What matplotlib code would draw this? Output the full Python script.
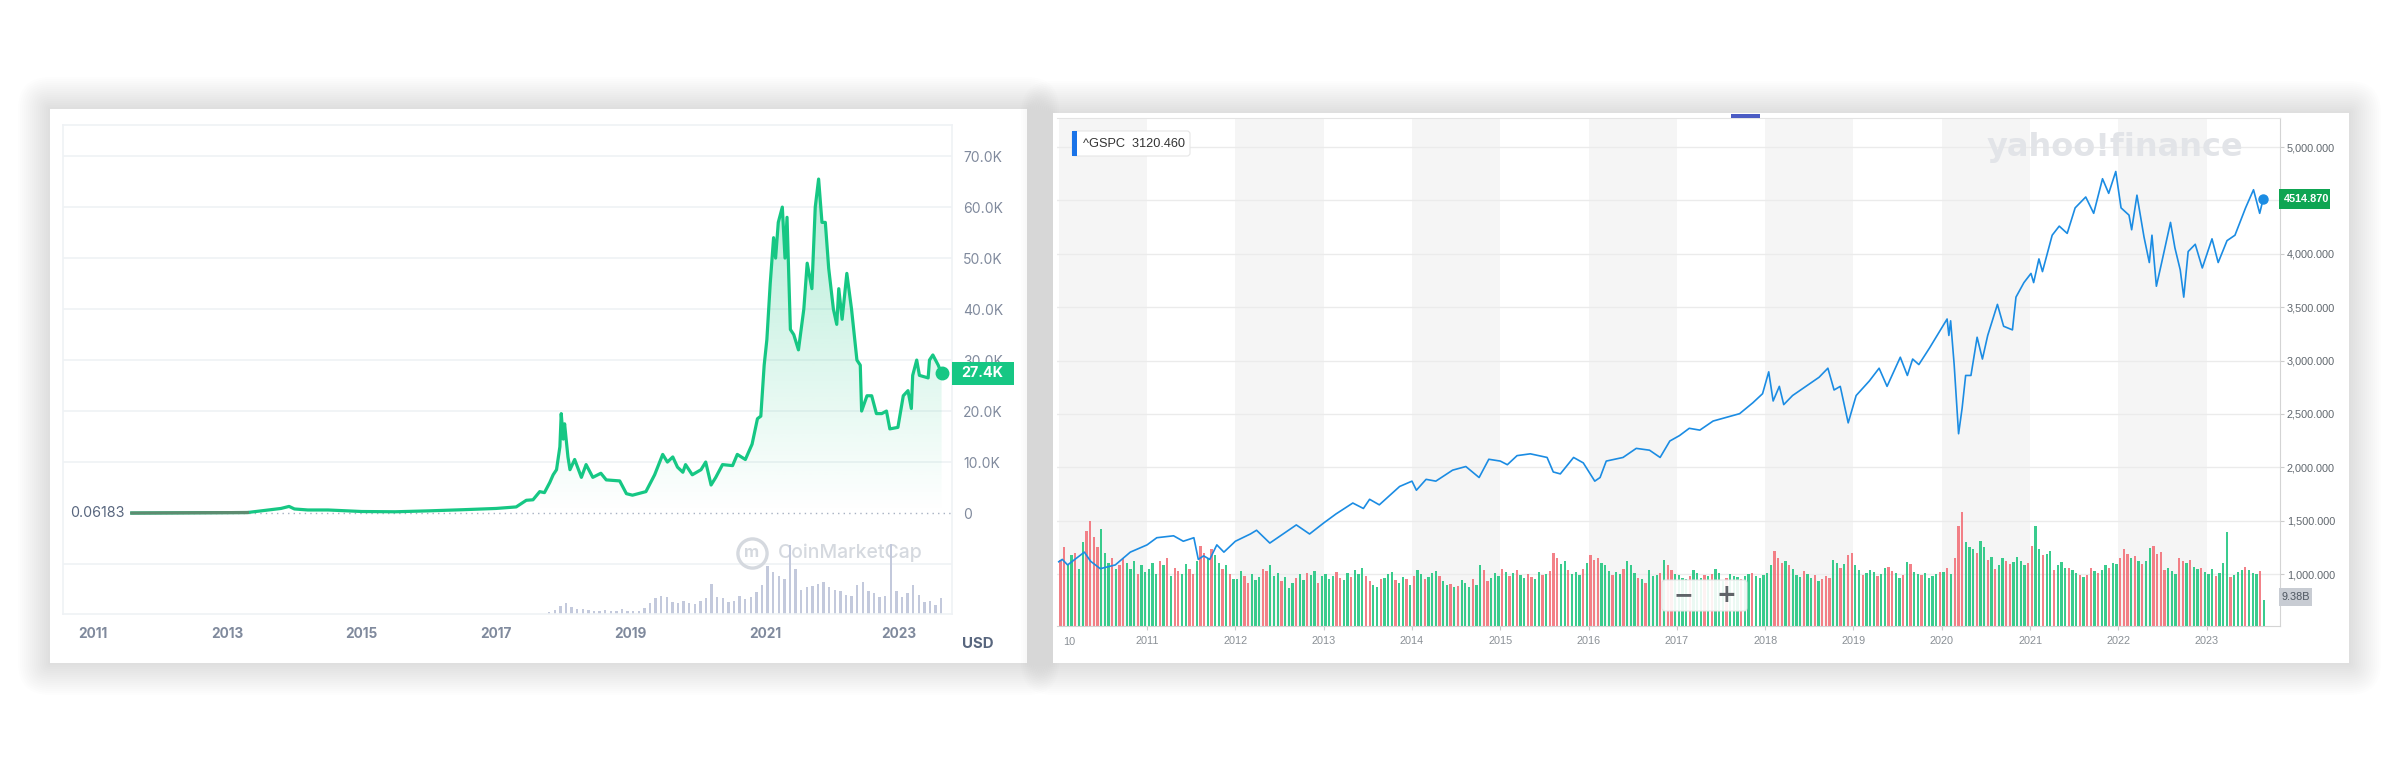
import numpy as np
import matplotlib
matplotlib.use('Agg')
import matplotlib.pyplot as plt
from matplotlib.patches import Rectangle, FancyBboxPatch
from matplotlib.transforms import blended_transform_factory

W, H = 2400, 772

# ---------------- Bitcoin (CoinMarketCap) ----------------
btc_years = [
    2011.58, 2013.30, 2013.80, 2013.92, 2014.00, 2014.20, 2014.50, 2015.00, 2015.50, 2016.00,
    2016.50, 2017.00, 2017.30, 2017.45, 2017.55, 2017.65, 2017.72, 2017.80, 2017.85, 2017.90,
    2017.95, 2017.97, 2018.00, 2018.02, 2018.07, 2018.10, 2018.17, 2018.27, 2018.34, 2018.44,
    2018.56, 2018.64, 2018.84, 2018.94, 2019.03, 2019.23, 2019.36, 2019.48, 2019.55, 2019.63,
    2019.70, 2019.78, 2019.82, 2019.92, 2020.05, 2020.12, 2020.20, 2020.27, 2020.37, 2020.52,
    2020.59, 2020.71, 2020.81, 2020.89, 2020.94, 2020.99, 2021.03, 2021.08, 2021.13, 2021.16,
    2021.20, 2021.26, 2021.30, 2021.33, 2021.38, 2021.43, 2021.50, 2021.58, 2021.63, 2021.70,
    2021.75, 2021.80, 2021.85, 2021.90, 2021.95, 2022.02, 2022.07, 2022.10, 2022.15, 2022.22,
    2022.29, 2022.37, 2022.42, 2022.44, 2022.52, 2022.59, 2022.66, 2022.74, 2022.81, 2022.86,
    2022.98, 2023.06, 2023.13, 2023.18, 2023.20, 2023.26, 2023.30, 2023.43, 2023.45, 2023.50,
    2023.58, 2023.63]
btc_price_k = [
    0.0, 0.1, 0.9, 1.3, 0.8, 0.6, 0.6, 0.3, 0.25, 0.43,
    0.65, 0.9, 1.2, 2.5, 2.6, 4.2, 4.0, 6.0, 7.5, 8.5,
    13.0, 19.5, 14.5, 17.5, 11.0, 8.5, 10.5, 7.0, 9.5, 7.0,
    7.8, 6.5, 6.3, 3.8, 3.5, 4.2, 7.5, 11.5, 10.0, 11.0,
    9.0, 8.0, 9.5, 7.5, 8.5, 10.0, 5.5, 7.0, 9.5, 9.3,
    11.5, 10.5, 13.5, 18.5, 19.0, 29.0, 34.0, 45.0, 54.0, 50.0,
    57.0, 60.0, 50.0, 58.0, 36.0, 35.0, 32.0, 40.0, 49.0, 44.0,
    60.0, 65.5, 57.0, 57.0, 48.0, 40.0, 37.0, 44.0, 38.0, 47.0,
    40.0, 30.0, 29.0, 20.0, 23.0, 23.0, 19.5, 19.5, 20.0, 16.5,
    16.8, 23.0, 24.0, 20.5, 27.0, 30.0, 27.0, 26.5, 30.0, 31.0,
    29.0, 27.4]
# monthly volume from Oct 2017, in chart units (K of the price scale)
btc_vol_start = 2017.75
btc_volume = [
    0.4, 0.7, 1.6,
    2.2, 1.4, 1.0, 0.9, 0.8, 0.6, 0.6, 0.7, 0.5, 0.5, 0.9, 0.6,
    0.5, 0.6, 1.2, 2.2, 3.2, 3.6, 3.4, 2.4, 2.1, 2.6, 2.2, 1.9,
    2.6, 3.1, 5.8, 3.4, 3.2, 2.4, 2.6, 3.6, 2.9, 3.3, 4.4, 5.6,
    9.5, 8.2, 7.4, 6.8, 13.5, 8.8, 4.8, 5.2, 5.4, 5.8, 6.2, 5.2,
    4.8, 4.6, 3.8, 3.6, 5.6, 6.2, 4.6, 4.2, 3.4, 3.6, 13.8, 4.6,
    3.4, 4.2, 5.6, 3.8, 2.4, 2.6, 1.8, 3.2]
btc_yticks = [0, 10, 20, 30, 40, 50, 60, 70]
btc_xticks = [2011, 2013, 2015, 2017, 2019, 2021, 2023]
btc_first_label = '0.06183'
btc_last_label = '27.4K'

# ---------------- S&P 500 (Yahoo Finance) ----------------
spx_years = [
    2010.00, 2010.04, 2010.10, 2010.29, 2010.36, 2010.47, 2010.64, 2010.81, 2011.00, 2011.11,
    2011.30, 2011.41, 2011.53, 2011.58, 2011.64, 2011.71, 2011.79, 2011.87, 2012.00, 2012.17,
    2012.24, 2012.39, 2012.54, 2012.69, 2012.84, 2013.00, 2013.14, 2013.33, 2013.45, 2013.52,
    2013.63, 2013.86, 2014.00, 2014.05, 2014.16, 2014.27, 2014.46, 2014.61, 2014.76, 2014.87,
    2015.00, 2015.08, 2015.19, 2015.34, 2015.53, 2015.60, 2015.68, 2015.83, 2015.94, 2016.07,
    2016.13, 2016.20, 2016.39, 2016.54, 2016.69, 2016.81, 2016.92, 2017.03, 2017.14, 2017.26,
    2017.41, 2017.56, 2017.71, 2017.86, 2017.97, 2018.04, 2018.09, 2018.16, 2018.21, 2018.31,
    2018.46, 2018.61, 2018.71, 2018.78, 2018.85, 2018.94, 2019.03, 2019.18, 2019.29, 2019.38,
    2019.53, 2019.61, 2019.67, 2019.74, 2019.86, 2020.01, 2020.06, 2020.08, 2020.10, 2020.14,
    2020.19, 2020.23, 2020.27, 2020.33, 2020.40, 2020.46, 2020.52, 2020.63, 2020.70, 2020.80,
    2020.84, 2020.93, 2021.01, 2021.04, 2021.10, 2021.14, 2021.25, 2021.33, 2021.42, 2021.51,
    2021.63, 2021.72, 2021.82, 2021.89, 2021.97, 2022.03, 2022.12, 2022.15, 2022.21, 2022.29,
    2022.35, 2022.38, 2022.43, 2022.49, 2022.59, 2022.64, 2022.70, 2022.74, 2022.79, 2022.87,
    2022.95, 2023.06, 2023.13, 2023.23, 2023.32, 2023.44, 2023.53, 2023.60, 2023.64]
spx_close = [
    1115, 1137, 1085, 1205, 1120, 1050, 1085, 1205, 1273, 1340,
    1358, 1307, 1340, 1137, 1170, 1137, 1273, 1205, 1307, 1375,
    1410, 1290, 1375, 1460, 1375, 1478, 1563, 1665, 1614, 1700,
    1648, 1820, 1870, 1785, 1887, 1870, 1973, 2007, 1904, 2075,
    2058, 2024, 2109, 2126, 2092, 1956, 1938, 2092, 2041, 1870,
    1904, 2058, 2092, 2177, 2160, 2092, 2246, 2297, 2365, 2348,
    2433, 2468, 2502, 2604, 2689, 2894, 2621, 2758, 2587, 2672,
    2758, 2843, 2928, 2724, 2758, 2416, 2672, 2809, 2928, 2758,
    3031, 2860, 3014, 2962, 3116, 3321, 3389, 3235, 3372, 2962,
    2314, 2553, 2860, 2860, 3218, 3014, 3235, 3526, 3321, 3287,
    3594, 3730, 3816, 3730, 3952, 3833, 4174, 4259, 4191, 4430,
    4532, 4379, 4703, 4566, 4771, 4430, 4362, 4225, 4549, 4157,
    3918, 4174, 3696, 3918, 4294, 4055, 3850, 3594, 4021, 4089,
    3867, 4140, 3918, 4123, 4174, 4430, 4600, 4379, 4515]
spx_last = 4514.870
# volume, two bars per month from Jan 2010, drawn on the price scale
spx_volume = (
    [1130, 1250, 1080, 1180, 1200, 1050, 1300, 1400, 1500, 1350, 1250, 1420,
     1200, 1100, 1150, 1050, 1080, 1150, 1100, 1050, 1120, 1000, 1080, 1020] +
    [1050, 1100, 1000, 1120, 1080, 1150, 980, 1060, 1030, 1000, 1090, 1050,
     1000, 1120, 1260, 1200, 1150, 1230, 1180, 1100, 1050, 1080, 1000, 950] +
    [950, 1030, 980, 920, 1000, 940, 970, 1050, 1030, 1080, 980, 1010,
     930, 970, 870, 920, 960, 1000, 940, 1010, 990, 1030, 920, 980] +
    [1000, 950, 980, 1020, 960, 940, 1010, 970, 1040, 1000, 1060, 980,
     930, 900, 880, 950, 960, 1000, 1020, 940, 920, 970, 950, 900] +
    [980, 1040, 1000, 950, 970, 1010, 1030, 980, 930, 900, 910, 880,
     890, 940, 920, 880, 950, 900, 1080, 1040, 930, 960, 1010, 980] +
    [1050, 1020, 980, 1010, 1040, 990, 960, 1000, 970, 950, 1020, 990,
     1000, 1030, 1200, 1150, 1090, 1120, 1040, 1000, 1020, 990, 1050, 1100] +
    [1180, 1130, 1150, 1100, 1080, 1030, 990, 1020, 1000, 1050, 1120, 1080,
     1010, 960, 950, 920, 1040, 980, 990, 1010, 1130, 1080, 1040, 1000] +
    [990, 960, 950, 980, 1040, 1010, 960, 990, 980, 1000, 1050, 1010,
     930, 960, 1000, 980, 970, 950, 980, 1000, 1010, 980, 960, 990] +
    [1010, 1080, 1220, 1150, 1100, 1120, 1080, 1050, 990, 970, 1030, 1000,
     960, 990, 930, 950, 980, 960, 1130, 1100, 1060, 1090, 1180, 1200] +
    [1080, 1040, 990, 1010, 1040, 1020, 980, 1000, 1060, 1070, 1030, 1010,
     960, 990, 1110, 1090, 1020, 1000, 990, 1010, 960, 980, 1000, 1020] +
    [1020, 1060, 1000, 1150, 1450, 1580, 1300, 1250, 1230, 1200, 1310, 1250,
     1130, 1160, 1050, 1080, 1150, 1120, 1090, 1110, 1160, 1120, 1080, 1100] +
    [1260, 1450, 1230, 1180, 1190, 1220, 1040, 1080, 1110, 1060, 1060, 1040,
     1010, 990, 970, 990, 1060, 1030, 1010, 1040, 1080, 1060, 1100, 1090] +
    [1150, 1230, 1190, 1150, 1170, 1120, 1090, 1120, 1240, 1260, 1190, 1210,
     1040, 1060, 1030, 1000, 1150, 1120, 1100, 1130, 1070, 1050, 1060, 1020] +
    [1000, 1050, 980, 1010, 1100, 1390, 970, 990, 1020, 1040, 1070, 1040,
     1010, 1000, 1030, 760])
spx_vol_dir = ("rrggrggrrrrgggrgrrgggrgg" "gggrgrgrrggrrgrrgrggrgrg" "ggrrgggrrgggrgggrggrggrg"
               "gggrrggrgggrrggrgggrggrg" "rggrgggrggrgrgggrggrrggg" "rgrgrggrrggrgrrrggrgggrg"
               "rrrgggrggrgggrgrgggrgrrg" "gggrgggrgrgggrgggrggrggg" "ggrrrgrgggrggrgrrrggrgrr"
               "ggrgggrggrrggrgrggrggggr" "grgrrrgggrggrgrggrrggggr" "rggrggrgggrggrgrrgrggrgg"
               "rrrgrgrggrrrrgggrrgrggrg" "ggrgggrgggrgggrg")
spx_yticks = [1000, 1500, 2000, 2500, 3000, 3500, 4000, 4500, 5000]
spx_xticks = list(range(2011, 2024))
spx_legend = '^GSPC  3120.460'
spx_vol_last = '9.38B'

CMC_GREEN = '#16c784'
CMC_GRAY = '#808a9d'
CMC_DARK = '#58667e'
GRID = '#eff2f5'

fig = plt.figure(figsize=(W / 100, H / 100), dpi=100)
fig.patch.set_facecolor('white')

bg = fig.add_axes([0, 0, 1, 1], zorder=0)
bg.set_xlim(0, W)
bg.set_ylim(H, 0)
bg.axis('off')


def px_axes(x0, y0, x1, y1, z=1):
    return fig.add_axes([x0 / W, 1 - y1 / H, (x1 - x0) / W, (y1 - y0) / H], zorder=z)


def card(x0, y0, x1, y1):
    # soft drop shadow, then the white card
    for k in range(32, 0, -2):
        bg.add_patch(FancyBboxPatch((x0 - k, y0 - k), x1 - x0 + 2 * k, y1 - y0 + 2 * k,
                                    boxstyle=f'round,pad=0,rounding_size={k}',
                                    lw=0, fc='black', alpha=0.0065))
    bg.add_patch(Rectangle((x0, y0), x1 - x0, y1 - y0, fc='white', lw=0))


card(50, 109, 1027, 663)
card(1053, 113, 2349, 663)

# ================= Bitcoin panel =================
ax1 = px_axes(63, 125, 952, 614)
ax1.set_facecolor('none')
x_lo, x_hi = 2010.556, 2023.785
y_lo, y_hi = -19.8, 76.1

for v in [-10] + btc_yticks[1:]:
    ax1.axhline(v, color=GRID, lw=1.2, zorder=0)

vx = btc_vol_start + (np.arange(len(btc_volume)) + 0.5) / 12
ax1.bar(vx, btc_volume, bottom=y_lo, width=0.035, color='#c3c9dc', lw=0, zorder=2)

# watermark
ax1.plot([0.775], [0.125], 'o', ms=21, mfc='none', mec='#d5d9df', mew=2.4,
         transform=ax1.transAxes, zorder=1)
ax1.text(0.775, 0.125, 'm', transform=ax1.transAxes, ha='center', va='center',
         fontsize=12, fontweight='bold', color='#d5d9df', family=['Inter', 'DejaVu Sans'], zorder=1)
ax1.text(0.804, 0.125, 'CoinMarketCap', transform=ax1.transAxes, ha='left', va='center',
         fontsize=14, fontweight='medium', color='#d5d9df', family=['Inter', 'DejaVu Sans'], zorder=1)

bt = np.array(btc_years)
bp = np.array(btc_price_k)
poly = ax1.fill_between(bt, bp, 0, color='none', lw=0)
grad = np.zeros((256, 1, 4))
grad[:, 0, :3] = matplotlib.colors.to_rgb(CMC_GREEN)
grad[:, 0, 3] = np.linspace(0.0, 0.32, 256)
im = ax1.imshow(grad, extent=[bt[0], bt[-1], 0, 66], origin='lower', aspect='auto', zorder=3)
im.set_clip_path(poly.get_paths()[0], transform=ax1.transData)

ax1.plot([bt[0], x_hi], [0, 0], ls=(0, (1, 3)), color='#a7b1c2', lw=1, zorder=3)
ax1.plot(bt, bp, color=CMC_GREEN, lw=2.3, solid_joinstyle='round', zorder=4)
ax1.plot(bt[:2], bp[:2], color='#5d8c70', lw=2.3, zorder=4)
ax1.plot(bt[-1], bp[-1], 'o', ms=9, color=CMC_GREEN, zorder=5)

ax1.set_xlim(x_lo, x_hi)
ax1.set_ylim(y_lo, y_hi)
for s in ax1.spines.values():
    s.set_color(GRID)
    s.set_linewidth(1.2)
ax1.yaxis.tick_right()
ax1.set_yticks(btc_yticks)
ax1.set_yticklabels(['0' if v == 0 else f'{v:.1f}K' for v in btc_yticks])
ax1.set_xticks(btc_xticks)
ax1.set_xticklabels([str(y) for y in btc_xticks])
ax1.tick_params(axis='y', length=0, pad=8, labelsize=10, labelcolor=CMC_GRAY)
ax1.tick_params(axis='x', length=0, pad=9, labelsize=9.8, labelcolor=CMC_GRAY)
for lab in ax1.get_yticklabels() + ax1.get_xticklabels():
    lab.set_family(['Inter', 'DejaVu Sans'])
for lab in ax1.get_xticklabels():
    lab.set_fontweight('bold')

tr1 = blended_transform_factory(ax1.transAxes, ax1.transData)
ax1.text(0.008, 0, btc_first_label, transform=tr1, ha='left', va='center', fontsize=10.3,
         color=CMC_DARK, family=['Inter', 'DejaVu Sans'], zorder=6,
         bbox=dict(fc='white', ec='none', pad=1))
ax1.add_patch(Rectangle((0.9995, btc_price_k[-1] - 2.25), 0.0697, 4.5, transform=tr1,
                        fc=CMC_GREEN, lw=0, clip_on=False, zorder=10))
ax1.text(1.0345, btc_price_k[-1], btc_last_label, transform=tr1, ha='center', va='center',
         fontsize=10.3, fontweight='bold', color='white', family=['Inter', 'DejaVu Sans'],
         zorder=11, clip_on=False)

bg.text(978, 644, 'USD', ha='center', va='center', fontsize=10.8, fontweight='bold',
        color=CMC_DARK, family=['Inter', 'DejaVu Sans'])

# ================= S&P 500 panel =================
ax2 = px_axes(1057, 118, 2280, 626)
ax2.set_facecolor('none')
sx_lo, sx_hi = 2009.98, 2023.83
sy_lo, sy_hi = 513, 5272

for y0 in range(2010, 2024, 2):
    ax2.axvspan(y0, y0 + 1, color='#f5f5f5', lw=0, zorder=0)
for v in spx_yticks:
    ax2.axhline(v, color='#ebebeb', lw=1, zorder=1)

ax2.text(0.865, 0.941, 'yahoo!finance', transform=ax2.transAxes, ha='center', va='center',
         fontsize=23, fontweight='bold', color='#e2e4e8', family='DejaVu Sans', zorder=1)

sv = np.array(spx_volume)
st = 2010 + (np.arange(len(sv)) + 0.5) / 24
cols = ['#17c47a' if spx_vol_dir[i % len(spx_vol_dir)] == 'g' else '#f26b73'
        for i in range(len(sv))]
ax2.bar(st, sv - sy_lo, bottom=sy_lo, width=0.026, color=cols, alpha=0.85, lw=0, zorder=2)

ax2.plot(spx_years, spx_close, color='#1b8ce3', lw=1.2, zorder=4)
ax2.plot(spx_years[-1], spx_last, 'o', ms=6.5, color='#1b8ce3', zorder=5)

ax2.set_xlim(sx_lo, sx_hi)
ax2.set_ylim(sy_lo, sy_hi)
ax2.spines['left'].set_visible(False)
ax2.spines['top'].set_color('#e4e4e4')
ax2.spines['right'].set_color('#d4d4d4')
ax2.spines['bottom'].set_color('#d4d4d4')
ax2.yaxis.tick_right()
ax2.set_yticks(spx_yticks)
# the 4,500 label sits under the last-price flag, so it is left blank
ax2.set_yticklabels(['' if v == 4500 else f'{v:,.3f}' for v in spx_yticks])
ax2.set_xticks(spx_xticks)
ax2.set_xticklabels([str(y) for y in spx_xticks])
ax2.tick_params(axis='y', length=3, width=0.8, color='#cccccc', pad=2, labelsize=7.8,
                labelcolor='#60676e')
ax2.tick_params(axis='x', length=3, width=0.8, color='#cccccc', pad=4, labelsize=7.8,
                labelcolor='#8a9096')
for lab in ax2.get_yticklabels() + ax2.get_xticklabels():
    lab.set_family(['Liberation Sans', 'DejaVu Sans'])
ax2.text(0.005, -0.032, '10', transform=ax2.transAxes, ha='left', va='center', fontsize=7.8,
         color='#8a9096', family=['Liberation Sans', 'DejaVu Sans'])

tr2 = blended_transform_factory(ax2.transAxes, ax2.transData)
ax2.add_patch(Rectangle((0.9995, spx_last - 95), 0.0417, 190, transform=tr2,
                        fc='#0ea552', lw=0, clip_on=False, zorder=10))
ax2.text(1.0035, spx_last, f'{spx_last:.3f}', transform=tr2, ha='left', va='center',
         fontsize=7.8, fontweight='bold', color='white', zorder=11, clip_on=False,
         family=['Liberation Sans', 'DejaVu Sans'])
ax2.add_patch(Rectangle((0.9995, 700), 0.027, 170, transform=tr2,
                        fc='#c8ccd3', lw=0, clip_on=False, zorder=10))
ax2.text(1.0128, 785, spx_vol_last, transform=tr2, ha='center', va='center',
         fontsize=7.8, color='#4d5660', zorder=11, clip_on=False,
         family=['Liberation Sans', 'DejaVu Sans'])

# overlays on the S&P card
top = fig.add_axes([0, 0, 1, 1], zorder=5)
top.set_xlim(0, W)
top.set_ylim(H, 0)
top.axis('off')
top.add_patch(FancyBboxPatch((1072, 131), 118, 25, boxstyle='round,pad=0,rounding_size=3',
                             fc='white', ec='#e6e6e6', lw=0.8))
top.add_patch(Rectangle((1072, 131), 5, 25, fc='#1a73e8', lw=0))
top.text(1083, 144, spx_legend, ha='left', va='center', fontsize=9.2, color='#333333',
         family=['Liberation Sans', 'DejaVu Sans'])
top.add_patch(Rectangle((1731, 114), 29, 4, fc='#4b5cc4', lw=0))
top.add_patch(FancyBboxPatch((1662, 580), 85, 31, boxstyle='round,pad=0,rounding_size=3',
                             fc='white', ec='#e2e2e2', lw=0.8, alpha=0.9))
top.text(1683, 595, '\u2212', ha='center', va='center', fontsize=17, fontweight='bold',
         color='#5f6368', family='DejaVu Sans')
top.text(1726, 595, '+', ha='center', va='center', fontsize=17, fontweight='bold',
         color='#5f6368', family='DejaVu Sans')

fig.savefig('out.png', dpi=100, facecolor='white')
